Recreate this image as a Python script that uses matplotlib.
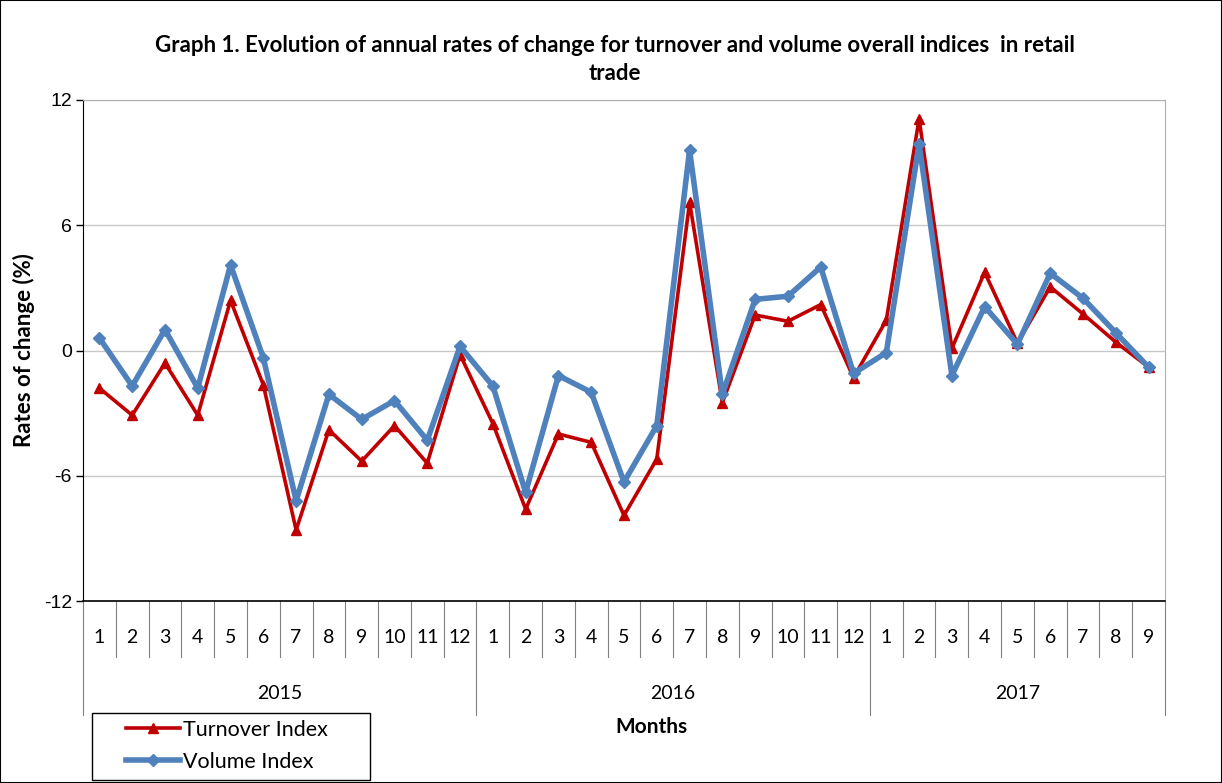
import matplotlib
matplotlib.use("Agg")
import matplotlib.pyplot as plt
import matplotlib.transforms as mtransforms
from matplotlib.patches import Rectangle
import numpy as np

plt.rcParams['font.family'] = ['Lato', 'DejaVu Sans']

years = ["2015", "2016", "2017"]
months_per_year = [12, 12, 9]
month_labels = [str(m) for n in months_per_year for m in range(1, n + 1)]

turnover = [-1.8, -3.1, -0.6, -3.1, 2.4, -1.65, -8.6, -3.8, -5.3, -3.6, -5.4, -0.2,
            -3.5, -7.6, -4.0, -4.4, -7.9, -5.2, 7.1, -2.5, 1.7, 1.4, 2.2, -1.3,
            1.45, 11.1, 0.1, 3.75, 0.35, 3.05, 1.75, 0.4, -0.8]
volume = [0.6, -1.7, 1.0, -1.8, 4.1, -0.35, -7.2, -2.1, -3.3, -2.4, -4.3, 0.2,
          -1.7, -6.8, -1.2, -2.0, -6.3, -3.6, 9.6, -2.1, 2.45, 2.6, 4.0, -1.1,
          -0.1, 9.9, -1.2, 2.1, 0.3, 3.7, 2.5, 0.85, -0.8]

W, H = 1222, 783
fig = plt.figure(figsize=(W / 100, H / 100), dpi=100)
fig.patches.append(Rectangle((0, 0), 1, 1, transform=fig.transFigure,
                             fill=False, edgecolor='black', linewidth=1.5))

ax = fig.add_axes([83 / W, 1 - 601 / H, (1165 - 83) / W, 501 / H])
x = np.arange(len(turnover))

ax.plot(x, turnover, color='#C00000', linewidth=2.6, marker='^', markersize=7,
        label='Turnover Index', zorder=3)
ax.plot(x, volume, color='#4F81BD', linewidth=4, marker='D', markersize=6,
        label='Volume Index', zorder=4)

ax.set_xlim(-0.5, len(x) - 0.5)
ax.set_ylim(-12, 12)
ax.set_yticks([-12, -6, 0, 6, 12])
ax.set_yticklabels(['-12', '-6', '0', '6', '12'], fontsize=14,
                   family=['Liberation Sans', 'DejaVu Sans'])
ax.tick_params(axis='y', direction='out', length=5, width=1, pad=3)
ax.set_xticks([])
ax.grid(axis='y', color='#c8c8c8', linewidth=1)
ax.set_axisbelow(True)
for side in ['top', 'right']:
    ax.spines[side].set_color('#b0b0b0')
ax.spines['left'].set_color('black')
ax.spines['bottom'].set_color('black')
ax.spines['bottom'].set_linewidth(1.2)

ax.set_ylabel('Rates of change (%)', fontsize=16, fontweight='bold', labelpad=6)

# category axis: months and years
trans = mtransforms.blended_transform_factory(ax.transData, ax.transAxes)
for i, lab in enumerate(month_labels):
    ax.text(i, -0.072, lab, transform=trans, ha='center', va='center', fontsize=14)
bounds = np.concatenate([[0], np.cumsum(months_per_year)]) - 0.5
for b in np.arange(-0.5, len(x)):
    long = b in bounds
    ax.plot([b, b], [0, -0.2275 if long else -0.112], transform=trans,
            color='#808080', linewidth=0.8, clip_on=False)
for yr, start, end in zip(years, bounds[:-1], bounds[1:]):
    ax.text((start + end) / 2, -0.184, yr, transform=trans, ha='center',
            va='center', fontsize=14)
ax.text(0.525, -0.251, 'Months', transform=ax.transAxes, ha='center',
        va='center', fontsize=15, fontweight='bold')

fig.text(0.503, 1 - 45 / H,
         'Graph 1. Evolution of annual rates of change for turnover and volume overall indices  in retail',
         ha='center', va='center', fontsize=16, fontweight='bold')
fig.text(0.503, 1 - 73 / H, 'trade', ha='center', va='center',
         fontsize=16, fontweight='bold')

# legend: box drawn separately, entries placed inside it
fig.patches.append(Rectangle((92 / W, 3 / H), 278 / W, 67 / H,
                             transform=fig.transFigure, fill=True,
                             facecolor='white', edgecolor='black', linewidth=1,
                             zorder=5))
leg = fig.legend(loc='upper left', bbox_to_anchor=(126 / W, 1 - 720 / H),
                 borderaxespad=0, borderpad=0, fontsize=15.5, handlelength=2.5,
                 frameon=False, labelspacing=0.55, handletextpad=0.15)
leg.set_zorder(6)

fig.savefig('out.png', dpi=100)
